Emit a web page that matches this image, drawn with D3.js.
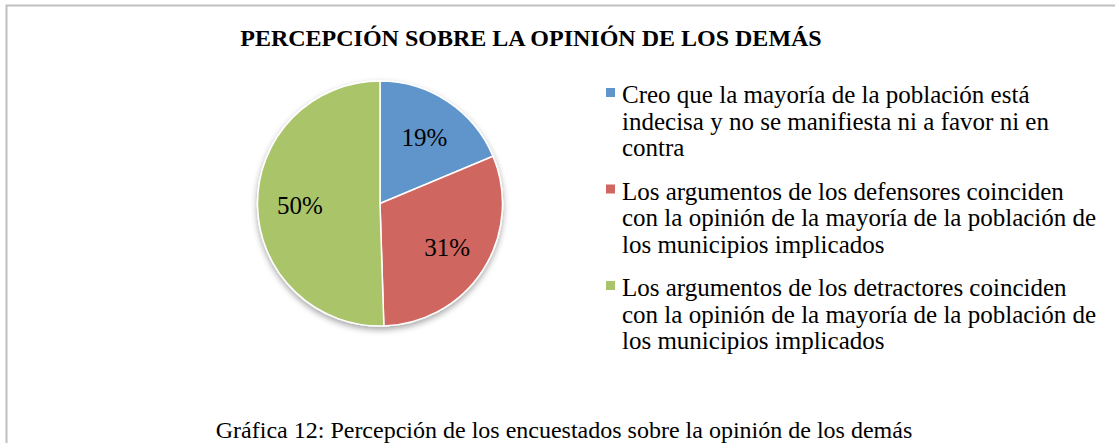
<!DOCTYPE html>
<html>
<head>
<meta charset="utf-8">
<script src="https://cdn.jsdelivr.net/npm/d3@7"></script>
<style>
  body { margin: 0; background: #fff; }
  svg { display: block; font-family: "Liberation Serif", "Times New Roman", serif; }
</style>
</head>
<body>
<svg id="chart" width="1115" height="443"></svg>
<script>
const title = "PERCEPCIÓN SOBRE LA OPINIÓN DE LOS DEMÁS";
const caption = "Gráfica 12: Percepción de los encuestados sobre la opinión de los demás";
const categories = [
  "Creo que la mayoría de la población está\nindecisa y no se manifiesta ni a favor ni en\ncontra",
  "Los argumentos de los defensores coinciden\ncon la opinión de la mayoría de la población de\nlos municipios implicados",
  "Los argumentos de los detractores coinciden\ncon la opinión de la mayoría de la población de\nlos municipios implicados"
];
const values = [18.7, 30.8, 50.5];
const valueLabels = ["19%", "31%", "50%"];
const colors = ["#6095cb", "#cf665f", "#aac46b"];

const svg = d3.select("#chart");
const W = 1115, H = 443;

// frame
svg.append("rect")
  .attr("x", 6.5).attr("y", 5.5)
  .attr("width", W + 20).attr("height", H + 20)
  .attr("fill", "none").attr("stroke", "#bfbfbf").attr("stroke-width", 2);

svg.append("text")
  .attr("x", 531).attr("y", 46)
  .attr("text-anchor", "middle")
  .attr("font-weight", "bold").attr("font-size", 24)
  .text(title);

// pie
const cx = 380, cy = 203.5, r = 122.5;
const defs = svg.append("defs");
const f = defs.append("filter").attr("id", "shadow")
  .attr("x", "-20%").attr("y", "-20%").attr("width", "140%").attr("height", "140%");
f.append("feDropShadow").attr("dx", 0).attr("dy", 3).attr("stdDeviation", 3)
  .attr("flood-color", "#000").attr("flood-opacity", 0.35);

const pie = d3.pie().sort(null).value(d => d);
const arcs = pie(values);
const arc = d3.arc().innerRadius(0).outerRadius(r);
const labelArc = d3.arc().innerRadius(80).outerRadius(80);

const g = svg.append("g").attr("transform", `translate(${cx},${cy})`);
g.append("g").attr("filter", "url(#shadow)")
  .selectAll("path")
  .data(arcs)
  .join("path")
    .attr("d", arc)
    .attr("fill", (d, i) => colors[i])
    .attr("stroke", "#fff")
    .attr("stroke-width", 1.5);

g.selectAll(".lbl")
  .data(arcs)
  .join("text")
    .attr("class", "lbl")
    .attr("transform", d => `translate(${labelArc.centroid(d)})`)
    .attr("text-anchor", "middle")
    .attr("dy", "0.35em")
    .attr("font-size", 25)
    .attr("fill", "#000")
    .text((d, i) => valueLabels[i]);

// legend
const legendX = 606, lineH = 26.5, entryGap = 17;
let y = 103;
categories.forEach((c, i) => {
  const lines = c.split("\n");
  svg.append("rect")
    .attr("x", legendX).attr("y", y - 15)
    .attr("width", 9).attr("height", 9)
    .attr("fill", colors[i]);
  const t = svg.append("text")
    .attr("x", legendX + 16).attr("y", y)
    .attr("font-size", 25);
  lines.forEach((ln, j) => {
    t.append("tspan")
      .attr("x", legendX + 16)
      .attr("dy", j === 0 ? 0 : lineH)
      .text(ln);
  });
  y += lines.length * lineH + entryGap;
});

svg.append("text")
  .attr("x", 564).attr("y", 438)
  .attr("text-anchor", "middle")
  .attr("font-size", 24)
  .text(caption);
</script>
</body>
</html>
